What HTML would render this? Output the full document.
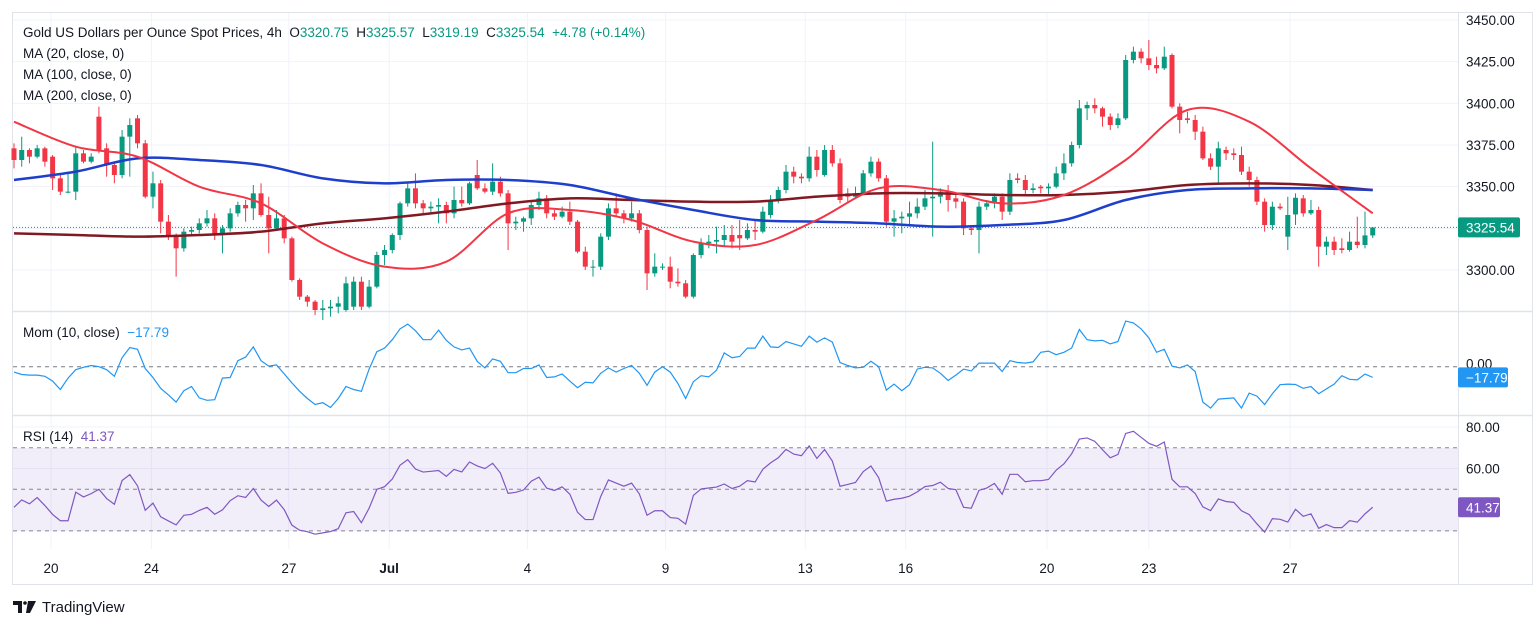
<!DOCTYPE html>
<html><head><meta charset="utf-8"><style>
html,body{margin:0;padding:0;background:#fff;width:1536px;height:628px;overflow:hidden}
svg{display:block;font-family:"Liberation Sans",sans-serif}
</style></head><body>
<svg id="chart" width="1536" height="628" viewBox="0 0 1536 628" xmlns="http://www.w3.org/2000/svg">
<rect x="12.5" y="12.5" width="1520" height="572" fill="#fff" stroke="#e0e3eb"/>
<g id="grid"></g>
<rect x="13" y="448" width="1445" height="83" fill="#7e57c2" fill-opacity="0.1"/>
<g id="panes">
<line x1="12" y1="311.5" x2="1533" y2="311.5" stroke="#e0e3eb" stroke-width="1.5"/>
<line x1="12" y1="415.5" x2="1533" y2="415.5" stroke="#e0e3eb" stroke-width="1.5"/>
<line x1="1458.5" y1="12" x2="1458.5" y2="584" stroke="#e0e3eb"/>
</g>
<g id="candles"></g>
<g id="lines"></g>
<g id="axes"></g>
<g id="legend" font-size="13.5" fill="#131722" style="white-space:pre">
<text x="23" y="37" xml:space="preserve">Gold US Dollars per Ounce Spot Prices, 4h  <tspan id="ohlc" fill="#089981"></tspan></text>
<text x="23" y="58">MA (20, close, 0)</text>
<text x="23" y="79">MA (100, close, 0)</text>
<text x="23" y="100">MA (200, close, 0)</text>
<text x="23" y="337" xml:space="preserve">Mom (10, close)  <tspan id="momval" fill="#2196f3"></tspan></text>
<text x="23" y="441" xml:space="preserve">RSI (14)  <tspan id="rsival" fill="#7e57c2"></tspan></text>
</g>
<g>
<path d="M13 601h9v12h-4v-8h-5z" fill="#131722"/>
<circle cx="25" cy="603" r="1.8" fill="#131722"/>
<path d="M28 601h8l-6 12h-4z" fill="#131722"/>
<text x="42" y="612" font-size="15" fill="#131722">TradingView</text>
</g>
</svg>
<script>
const opens=[3373,3366,3372,3368,3373,3368,3355,3347,3347,3370,3365,3392,3373,3363,3357,3380,3391,3376,3344,3352,3329,3321,3313,3323,3324,3328,3331,3321,3325,3334,3339,3337,3346,3333,3325,3331,3319,3294,3284,3281,3276,3277,3278,3276,3278,3293,3278,3290,3309,3312,3321,3340,3349,3340,3337,3338,3339,3334,3342,3340,3357,3349,3347,3353,3346,3328,3329,3331,3339,3343,3334,3332,3335,3329,3311,3302,3302,3320,3337,3334,3331,3334,3324,3298,3302,3302,3293,3292,3284,3309,3316,3317,3318,3321,3321,3319,3324,3323,3333,3342,3348,3359,3356,3355,3368,3357,3372,3364,3346,3344,3346,3358,3365,3355,3329,3331,3332,3334,3338,3343,3344,3347,3343,3341,3325,3324,3338,3340,3344,3335,3355,3354,3348,3350,3349,3350,3358,3364,3375,3397,3399,3397,3392,3387,3391,3426,3431,3427,3423,3421,3429,3398,3391,3390,3383,3367,3362,3372,3370,3369,3359,3354,3341,3327,3338,3320,3333.33,3343,3334,3336,3314,3317,3313,3312,3317,3315,3320.75];
const highs=[3376,3380,3373,3375,3374,3369,3358,3358,3374,3372,3370,3398,3376,3365,3384,3391,3393,3378,3359,3354,3333,3322,3325,3326,3331,3336,3334,3327,3337,3341,3342,3351,3352,3344,3336,3333,3320,3295,3285,3282,3282,3282,3284,3296,3296,3296,3294,3311,3315,3322,3341,3353,3358,3342,3341,3343,3341,3350,3350,3353,3366,3352,3364,3356,3348,3332,3332,3341,3347,3345,3336,3338,3341,3330,3314,3306,3322,3340,3346,3336,3341,3336,3326,3310,3304,3308,3301,3294,3310,3319,3321,3326,3327,3327,3330,3328,3330,3338,3345,3350,3363,3362,3358,3374,3372,3375,3375,3367,3349,3350,3360,3368,3367,3357,3336,3335,3341,3343,3348,3377,3349,3351,3346,3343,3327,3341,3342,3346,3346,3358,3358,3357,3352,3351,3352,3362,3370,3377,3402,3401,3403,3398,3394,3394,3429,3434,3433,3438,3428,3434,3430,3400,3395,3393,3386,3370,3377,3374,3373,3374,3362,3356,3343,3341,3340,3344,3346,3345,3342,3338,3320,3320,3319,3323,3332,3335,3325.57];
const lows=[3361,3362,3364,3367,3362,3348,3345,3346,3342,3364,3364,3370,3356,3352,3355,3356,3373,3343,3337,3322,3318,3296,3311,3321,3322,3326,3318,3310,3323,3332,3329,3330,3332,3310,3324,3316,3293,3282,3278,3273,3270,3272,3274,3275,3276,3276,3277,3289,3303,3310,3318,3338,3337,3334,3334,3328,3328,3331,3338,3339,3348,3346,3345,3344,3312,3324,3323,3327,3336,3331,3330,3331,3327,3310,3300,3296,3300,3318,3332,3328,3329,3322,3288,3296,3300,3289,3290,3283,3283,3307,3313,3310,3314,3313,3312,3318,3318,3322,3331,3340,3346,3352,3352,3353,3356,3356,3362,3340,3340,3343,3345,3356,3353,3326,3320,3322,3326,3331,3336,3320,3340,3335,3337,3321,3321,3310,3336,3337,3330,3333,3352,3345,3346,3346,3345,3349,3354,3362,3373,3390,3394,3386,3384,3385,3390,3424,3424,3420,3418,3420,3397,3382,3388,3378,3366,3360,3352,3366,3366,3357,3350,3339,3323,3324,3336,3312,3327,3332,3333,3302,3309,3309,3310,3311,3313,3313,3319.19];
const closes=[3366,3372,3368,3373,3365,3355,3347,3347,3370,3365,3368,3372,3363,3357,3380,3387,3376,3344,3352,3329,3321,3313,3323,3324,3328,3331,3321,3325,3334,3339,3337,3346,3333,3325,3331,3319,3294,3284,3281,3276,3277,3278,3280,3292,3293,3278,3290,3309,3312,3321,3340,3349,3340,3337,3338,3339,3334,3342,3340,3352,3349,3347,3353,3346,3328,3329,3331,3339,3343,3334,3332,3335,3329,3311,3302,3302,3320,3337,3334,3331,3334,3324,3298,3302,3302,3293,3292,3284,3309,3316,3317,3318,3321,3317,3319,3324,3323,3335,3342,3348,3359,3356,3355,3368,3360,3372,3364,3342,3344,3346,3358,3365,3355,3329,3331,3332,3334,3338,3343,3344,3347,3342,3341,3325,3324,3338,3340,3344,3335,3354,3354,3348,3349,3349,3350,3358,3364,3375,3397,3399,3397,3392,3387,3391,3426,3431,3427,3423,3421,3428,3398,3390,3390,3383,3367,3362,3373,3370,3369,3359,3354,3341,3327,3338,3337,3333,3343.33,3334,3336,3314,3317,3312,3312,3317,3315,3320.76,3325.54];
const maBars=[0,8,16,24,32,40,48,56,64,72,80,88,96,104,112,120,128,136,144,152,160,168,176];
const ma20=[3389,3374,3368,3350,3340,3316,3302,3305,3334,3336,3330,3317,3315,3330,3349,3348,3340,3345,3366,3396,3389,3361,3334];
const ma100=[3354,3359,3367,3366,3363,3355,3352,3354,3354,3351,3343,3336,3330,3329,3328,3326,3327,3330,3342,3348,3349,3349,3348];
const ma200=[3322,3321,3320,3321,3323,3328,3331,3335,3340,3343,3342,3341,3341,3344,3346,3346,3345,3345,3347,3351,3352,3351,3348];
const momStart=[-9,-13,-14,-14,-16,-24,-38,-19,-5,-1];
const rsiSeedGain=[3.2];
const rsiSeedLoss=[4.0];
const priceTicks=[3450,3425,3400,3375,3350,3325,3300];
const rsiTicks=[80,60];
const rsiLevels=[70,50,30];
const dayLabels=["20","24","27","Jul","4","9","13","16","20","23","27"];
const dayBars=[4.8,17.8,35.6,48.6,66.5,84.4,102.5,115.5,133.8,147,165.3];

const NS="http://www.w3.org/2000/svg";
function mk(tag,attrs,parent){const e=document.createElementNS(NS,tag);for(const k in attrs)e.setAttribute(k,attrs[k]);parent.appendChild(e);return e;}
const X=i=>14+i*7.72;
const Yp=p=>20+(3450-p)*250/150;
const Ym=v=>366.7-v*0.6;
const Yr=v=>447.7+(70-v)*2.08;
const grid=document.getElementById('grid'),cg=document.getElementById('candles'),lg=document.getElementById('lines'),ax=document.getElementById('axes');

priceTicks.forEach(p=>{const l=mk('line',{x1:13,x2:1458,y1:Yp(p),y2:Yp(p),stroke:'#f0f3fa'},grid);

});
rsiTicks.forEach(v=>{const l=mk('line',{x1:13,x2:1458,y1:Yr(v),y2:Yr(v),stroke:'#f0f3fa'},grid);

});
dayBars.forEach(b=>{const l=mk('line',{x1:X(b),x2:X(b),y1:13,y2:549,stroke:'#f0f3fa'},grid);

});
rsiLevels.forEach(v=>{const l=mk('line',{x1:13,x2:1458,y1:Yr(v),y2:Yr(v),stroke:'#787b86','stroke-dasharray':'4 4','stroke-opacity':0.9},grid);

});
{const l=mk('line',{x1:13,x2:1458,y1:Ym(0),y2:Ym(0),stroke:'#787b86','stroke-dasharray':'4 4'},grid);

}

closes.forEach((c,i)=>{const o=opens[i],up=c>=o,col=up?'#089981':'#f23645',x=X(i);
const w=mk('line',{x1:x,x2:x,y1:Yp(highs[i]),y2:Yp(lows[i]),stroke:col,'stroke-width':1},cg);


const t=Math.min(Yp(o),Yp(c)),h=Math.max(1,Math.abs(Yp(o)-Yp(c)));
const r=mk('rect',{x:x-2.5,y:t,width:5,height:h,fill:col},cg);

});

const last=closes.length-1;
{const l=mk('line',{x1:13,x2:1458,y1:Yp(closes[last]),y2:Yp(closes[last]),stroke:'#089981','stroke-dasharray':'1 2'},lg);

}

function smooth(pts){let d='M'+pts[0][0]+','+pts[0][1];for(let i=1;i<pts.length;i++){const p0=pts[i-2]||pts[i-1],p1=pts[i-1],p2=pts[i],p3=pts[i+1]||p2;
const c1=[p1[0]+(p2[0]-p0[0])/6,p1[1]+(p2[1]-p0[1])/6],c2=[p2[0]-(p3[0]-p1[0])/6,p2[1]-(p3[1]-p1[1])/6];
d+=' C'+c1+' '+c2+' '+p2;}return d;}
[[ma200,'#801922','ma200-line',2.5],[ma100,'#1e3fcc','ma100-line',2.5],[ma20,'#f23645','ma20-line',2]].forEach(([arr,col,name,sw])=>{
const p=mk('path',{d:smooth(arr.map((v,k)=>[X(maBars[k]),Yp(v)])),fill:'none',stroke:col,'stroke-width':sw},lg);

});

const mom=closes.map((c,i)=>i<10?momStart[i]:c-closes[i-10]);
{const p=mk('polyline',{points:mom.map((v,i)=>X(i)+','+Ym(v)).join(' '),fill:'none',stroke:'#2196f3','stroke-width':1.2},lg);

}
let ag=rsiSeedGain[0],al=rsiSeedLoss[0];const rsi=[];
closes.forEach((c,i)=>{const prev=i?closes[i-1]:opens[0];const d=c-prev;ag=(ag*13+Math.max(d,0))/14;al=(al*13+Math.max(-d,0))/14;rsi.push(100-100/(1+ag/al));});
{const p=mk('polyline',{points:rsi.map((v,i)=>X(i)+','+Yr(v)).join(' '),fill:'none',stroke:'#7e57c2','stroke-width':1.2},lg);

}

function txt(s,x,y,attrs,name){const t=mk('text',Object.assign({x:x,y:y,'font-size':13.5,fill:'#131722'},attrs||{}),ax);t.textContent=s;

return t;}
priceTicks.forEach(p=>txt(p.toFixed(2),1466,Yp(p)+5,{},'price-tick-label'));
rsiTicks.forEach(v=>txt(v.toFixed(2),1466,Yr(v)+5,{},'rsi-tick-label'));
txt('0.00',1466,Ym(0)+2,{},'mom-tick-label');
dayLabels.forEach((s,k)=>txt(s,X(dayBars[k]),573,{'text-anchor':'middle','font-weight':s==='Jul'?'bold':'normal'},'time-tick-label'));
function badge(val,y,col,w,name){const g=mk('g',{},ax);


mk('rect',{x:1458,y:y-10,width:w,height:20,rx:2,fill:col},g);
const t=mk('text',{x:1466,y:y+5,'font-size':13.5,fill:'#fff'},g);t.textContent=val;}
const cl=closes[last],ml=mom[last],rl=rsi[last];
badge(cl.toFixed(2),Yp(cl),'#089981',62,'last-price-badge');
badge((ml<0?'\u2212':'')+Math.abs(ml).toFixed(2),Ym(ml),'#2196f3',50,'mom-value-badge');
badge(rl.toFixed(2),Yr(rl),'#7e57c2',42,'rsi-value-badge');
const ch=cl-closes[last-1];
const sp='\u00a0\u00a0';
document.getElementById('ohlc').innerHTML='<tspan fill="#131722">O</tspan>'+opens[last].toFixed(2)+sp+'<tspan fill="#131722">H</tspan>'+highs[last].toFixed(2)+sp+'<tspan fill="#131722">L</tspan>'+lows[last].toFixed(2)+sp+'<tspan fill="#131722">C</tspan>'+cl.toFixed(2)+sp+(ch>=0?'+':'')+ch.toFixed(2)+' ('+(ch>=0?'+':'')+(ch/closes[last-1]*100).toFixed(2)+'%)';
document.getElementById('momval').textContent=(ml<0?'\u2212':'')+Math.abs(ml).toFixed(2);
document.getElementById('rsival').textContent=rl.toFixed(2);
</script>
</body></html>
